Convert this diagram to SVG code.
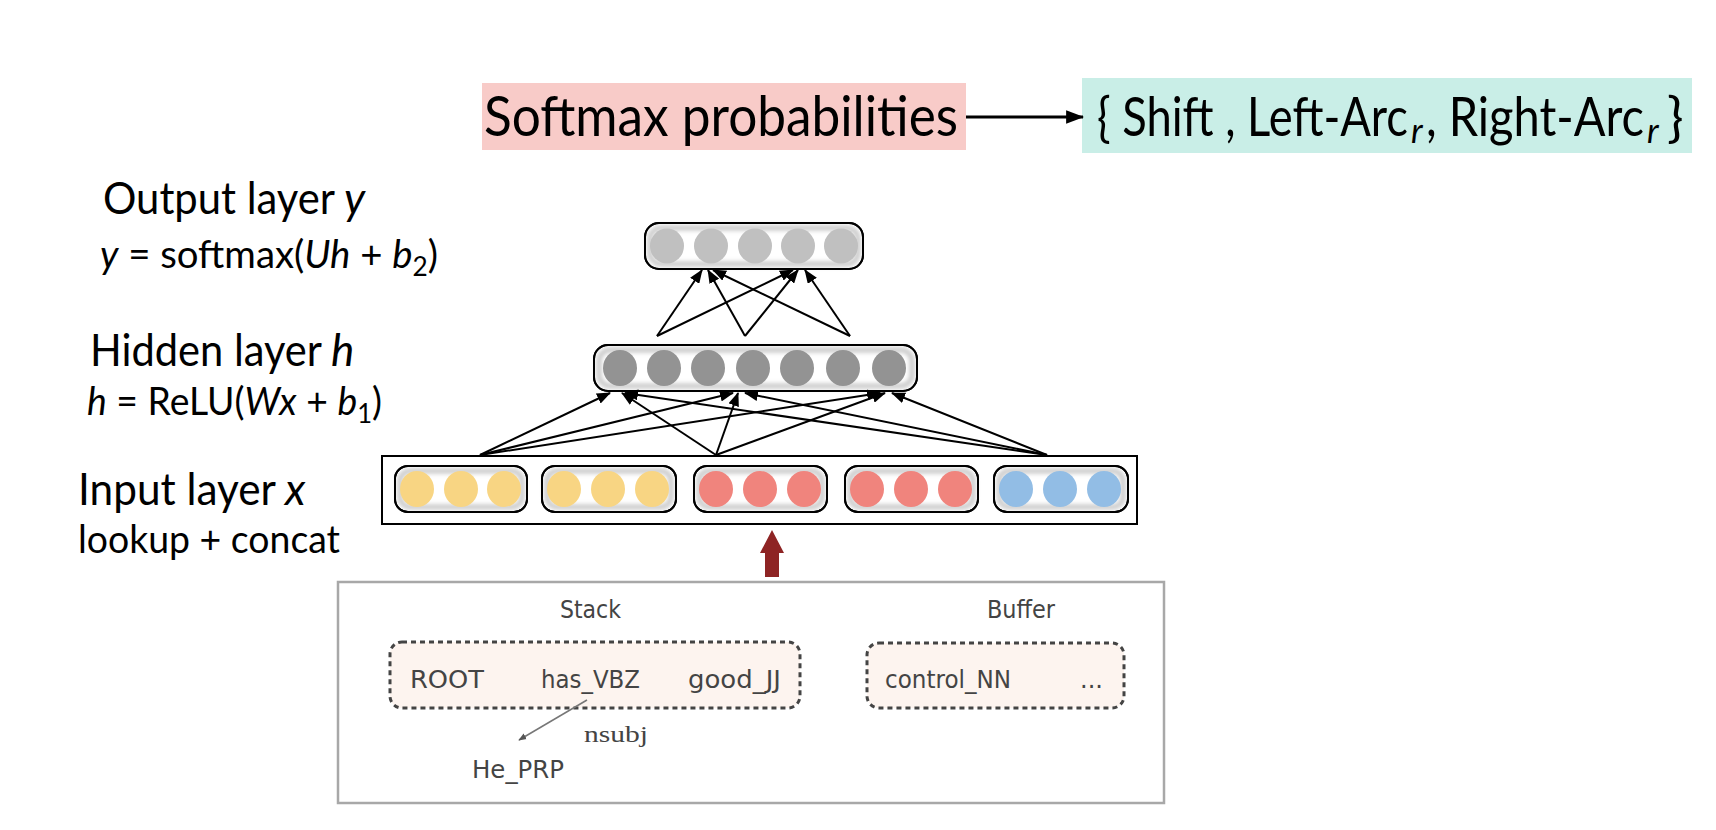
<svg xmlns="http://www.w3.org/2000/svg" width="1716" height="830" viewBox="0 0 1716 830">
<defs>
<style>
.lbl{font-family:Lato,"Open Sans","Liberation Sans",sans-serif;fill:#000}
.it{font-style:italic}
.grp{fill:#fff;stroke:#000;stroke-width:2}
.glow{fill:none;stroke:#c8c8c8;stroke-width:5}
.con{stroke:#000;stroke-width:2;fill:none;marker-end:url(#ah)}
.yel{fill:#F8D583}
.red{fill:#F0847D}
.blu{fill:#92BDE5}
.hid{fill:#939393}
.out{fill:#C0C0C0}
.bt{font-family:"DejaVu Sans","Liberation Sans",sans-serif;fill:#444;font-size:24px}
.dash{fill:#FDF4EF;stroke:#444;stroke-width:3;stroke-dasharray:5 4}
</style>
<marker id="ah" viewBox="0 0 14 11" refX="13" refY="5.5" markerWidth="14" markerHeight="11" markerUnits="userSpaceOnUse" orient="auto">
<path d="M0,0 L14,5.5 L0,11 z" fill="#000"/>
</marker>
<marker id="ahs" viewBox="0 0 10 8" refX="9" refY="4" markerWidth="8" markerHeight="7" markerUnits="userSpaceOnUse" orient="auto">
<path d="M0,0 L10,4 L0,8 z" fill="#555"/>
</marker>
<marker id="ahb" viewBox="0 0 16 12" refX="15" refY="6" markerWidth="18" markerHeight="14" markerUnits="userSpaceOnUse" orient="auto">
<path d="M0,0 L16,6 L0,12 z" fill="#000"/>
</marker>
<filter id="blur" x="-10%" y="-30%" width="120%" height="160%"><feGaussianBlur stdDeviation="2"/></filter>
</defs>
<rect width="1716" height="830" fill="#fff"/>

<g id="softmax">
<rect x="482" y="83" width="484" height="67" fill="#F8CBC8"/>
<text class="lbl" x="484" y="136" font-size="56" textLength="474" lengthAdjust="spacingAndGlyphs">Softmax probabilities</text>
</g>
<g id="actions">
<rect x="1082" y="78" width="610" height="75" fill="#C9EEE7"/>
<text class="lbl" x="1097" y="136" font-size="55" textLength="311" lengthAdjust="spacingAndGlyphs">{ Shift , Left-Arc</text>
<text class="lbl it" x="1411" y="143" font-size="34">r</text>
<text class="lbl" x="1426" y="136" font-size="55" textLength="218" lengthAdjust="spacingAndGlyphs">, Right-Arc</text>
<text class="lbl it" x="1647" y="143" font-size="34">r</text>
<text class="lbl" x="1667" y="136" font-size="55">}</text>
</g>

<g id="labels">
<text class="lbl" x="103" y="214" font-size="44" textLength="232" lengthAdjust="spacingAndGlyphs">Output layer</text>
<text class="lbl it" x="344" y="214" font-size="44">y</text>
<text class="lbl" x="100" y="268" font-size="38" textLength="338" lengthAdjust="spacingAndGlyphs"><tspan class="it">y</tspan> = softmax(<tspan class="it">Uh</tspan> + <tspan class="it">b</tspan><tspan font-size="26" dy="8">2</tspan><tspan dy="-8">)</tspan></text>
<text class="lbl" x="90" y="366" font-size="44" textLength="232" lengthAdjust="spacingAndGlyphs">Hidden layer</text>
<text class="lbl it" x="331" y="366" font-size="44">h</text>
<text class="lbl" x="87" y="415" font-size="38" textLength="295" lengthAdjust="spacingAndGlyphs"><tspan class="it">h</tspan> = ReLU(<tspan class="it">Wx</tspan> + <tspan class="it">b</tspan><tspan font-size="26" dy="8">1</tspan><tspan dy="-8">)</tspan></text>
<text class="lbl" x="78" y="505" font-size="44" textLength="198" lengthAdjust="spacingAndGlyphs">Input layer</text>
<text class="lbl it" x="285" y="505" font-size="44">x</text>
<text class="lbl" x="78" y="553" font-size="39" textLength="262" lengthAdjust="spacingAndGlyphs">lookup + concat</text>
</g>

<g id="output-layer">
<rect class="grp" x="645" y="223" width="218" height="46" rx="14"/>
<rect class="glow" x="650" y="228" width="208" height="36" rx="11" filter="url(#blur)"/>
<rect x="645" y="223" width="218" height="46" rx="14" fill="none" stroke="#000" stroke-width="2"/>
<ellipse class="out" cx="667" cy="246" rx="17" ry="17.5"/>
<ellipse class="out" cx="711" cy="246" rx="17" ry="17.5"/>
<ellipse class="out" cx="755" cy="246" rx="17" ry="17.5"/>
<ellipse class="out" cx="798" cy="246" rx="17" ry="17.5"/>
<ellipse class="out" cx="841" cy="246" rx="17" ry="17.5"/>
</g>

<g id="hidden-layer">
<rect class="grp" x="594" y="345" width="323" height="46" rx="14"/>
<rect class="glow" x="599" y="350" width="313" height="36" rx="11" filter="url(#blur)"/>
<rect x="594" y="345" width="323" height="46" rx="14" fill="none" stroke="#000" stroke-width="2"/>
<ellipse class="hid" cx="620" cy="368" rx="17" ry="18"/>
<ellipse class="hid" cx="664" cy="368" rx="17" ry="18"/>
<ellipse class="hid" cx="708" cy="368" rx="17" ry="18"/>
<ellipse class="hid" cx="753" cy="368" rx="17" ry="18"/>
<ellipse class="hid" cx="797" cy="368" rx="17" ry="18"/>
<ellipse class="hid" cx="843" cy="368" rx="17" ry="18"/>
<ellipse class="hid" cx="889" cy="368" rx="17" ry="18"/>
</g>

<g id="input-layer">
<rect x="382" y="456" width="755" height="68" fill="#fff" stroke="#000" stroke-width="2"/>
<g id="emb1">
<rect class="grp" x="395" y="466" width="132" height="46" rx="13"/>
<rect class="glow" x="400" y="471" width="122" height="36" rx="10" filter="url(#blur)"/>
<rect x="395" y="466" width="132" height="46" rx="13" fill="none" stroke="#000" stroke-width="2"/>
<ellipse class="yel" cx="417" cy="489" rx="17" ry="18"/><ellipse class="yel" cx="461" cy="489" rx="17" ry="18"/><ellipse class="yel" cx="504" cy="489" rx="17" ry="18"/>
</g>
<g id="emb2">
<rect class="grp" x="542" y="466" width="134" height="46" rx="13"/>
<rect class="glow" x="547" y="471" width="124" height="36" rx="10" filter="url(#blur)"/>
<rect x="542" y="466" width="134" height="46" rx="13" fill="none" stroke="#000" stroke-width="2"/>
<ellipse class="yel" cx="564" cy="489" rx="17" ry="18"/><ellipse class="yel" cx="608" cy="489" rx="17" ry="18"/><ellipse class="yel" cx="652" cy="489" rx="17" ry="18"/>
</g>
<g id="emb3">
<rect class="grp" x="694" y="466" width="133" height="46" rx="13"/>
<rect class="glow" x="699" y="471" width="123" height="36" rx="10" filter="url(#blur)"/>
<rect x="694" y="466" width="133" height="46" rx="13" fill="none" stroke="#000" stroke-width="2"/>
<ellipse class="red" cx="716" cy="489" rx="17" ry="18"/><ellipse class="red" cx="760" cy="489" rx="17" ry="18"/><ellipse class="red" cx="804" cy="489" rx="17" ry="18"/>
</g>
<g id="emb4">
<rect class="grp" x="845" y="466" width="133" height="46" rx="13"/>
<rect class="glow" x="850" y="471" width="123" height="36" rx="10" filter="url(#blur)"/>
<rect x="845" y="466" width="133" height="46" rx="13" fill="none" stroke="#000" stroke-width="2"/>
<ellipse class="red" cx="867" cy="489" rx="17" ry="18"/><ellipse class="red" cx="911" cy="489" rx="17" ry="18"/><ellipse class="red" cx="955" cy="489" rx="17" ry="18"/>
</g>
<g id="emb5">
<rect class="grp" x="994" y="466" width="134" height="46" rx="13"/>
<rect class="glow" x="999" y="471" width="124" height="36" rx="10" filter="url(#blur)"/>
<rect x="994" y="466" width="134" height="46" rx="13" fill="none" stroke="#000" stroke-width="2"/>
<ellipse class="blu" cx="1016" cy="489" rx="17" ry="18"/><ellipse class="blu" cx="1060" cy="489" rx="17" ry="18"/><ellipse class="blu" cx="1104" cy="489" rx="17" ry="18"/>
</g>
</g>

<g id="configuration">
<rect x="338" y="582" width="826" height="221" fill="#fff" stroke="#A8A8A8" stroke-width="2.5"/>
<text class="bt" x="560" y="618" textLength="61" lengthAdjust="spacingAndGlyphs">Stack</text>
<text class="bt" x="987" y="618" textLength="68" lengthAdjust="spacingAndGlyphs">Buffer</text>
<g id="stack">
<rect class="dash" x="390" y="642" width="410" height="66" rx="12"/>
<text class="bt" x="410" y="688" textLength="74" lengthAdjust="spacingAndGlyphs">ROOT</text>
<text class="bt" x="541" y="688" textLength="99" lengthAdjust="spacingAndGlyphs">has_VBZ</text>
<text class="bt" x="688" y="688" textLength="93" lengthAdjust="spacingAndGlyphs">good_JJ</text>
</g>
<g id="buffer">
<rect class="dash" x="867" y="643" width="257" height="65" rx="12"/>
<text class="bt" x="885" y="688" textLength="126" lengthAdjust="spacingAndGlyphs">control_NN</text>
<text class="bt" x="1080" y="688">...</text>
</g>
<g id="dep">
<line x1="587" y1="700" x2="519" y2="740" stroke="#777" stroke-width="1.5" marker-end="url(#ahs)"/>
<text x="584" y="742" font-family="'Liberation Serif',serif" font-size="24" fill="#444" textLength="64" lengthAdjust="spacingAndGlyphs">nsubj</text>
<text class="bt" x="472" y="778" textLength="92" lengthAdjust="spacingAndGlyphs">He_PRP</text>
</g>
</g>

<g id="connectors">
<line x1="966" y1="117" x2="1083" y2="117" stroke="#000" stroke-width="3" marker-end="url(#ahb)"/>
<path d="M765,577 L765,553 L760,553 L772,530 L784,553 L779,553 L779,577 z" fill="#8E2424"/>
<line class="con" x1="657" y1="336" x2="702" y2="270"/>
<line class="con" x1="657" y1="336" x2="793" y2="270"/>
<line class="con" x1="745" y1="336" x2="708" y2="270"/>
<line class="con" x1="745" y1="336" x2="798" y2="270"/>
<line class="con" x1="850" y1="336" x2="713" y2="270"/>
<line class="con" x1="850" y1="336" x2="805" y2="270"/>
<line class="con" x1="480" y1="455" x2="610" y2="393"/>
<line class="con" x1="480" y1="455" x2="733" y2="393"/>
<line class="con" x1="480" y1="455" x2="880" y2="393"/>
<line class="con" x1="716" y1="455" x2="622" y2="393"/>
<line class="con" x1="716" y1="455" x2="738" y2="393"/>
<line class="con" x1="716" y1="455" x2="885" y2="393"/>
<line class="con" x1="1047" y1="455" x2="625" y2="393"/>
<line class="con" x1="1047" y1="455" x2="745" y2="393"/>
<line class="con" x1="1047" y1="455" x2="892" y2="393"/>
</g>
</svg>
